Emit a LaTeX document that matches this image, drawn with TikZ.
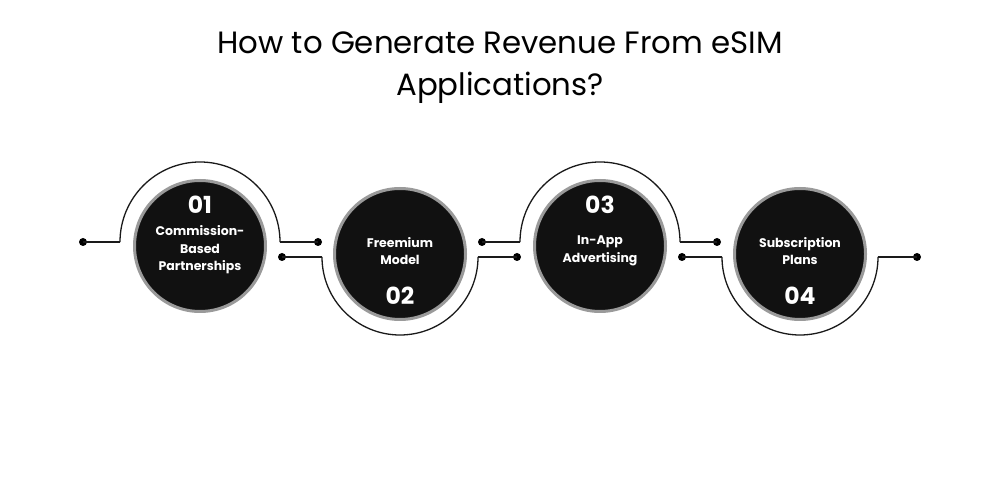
\documentclass[tikz,border=0pt]{standalone}
\usepackage{fontspec}
\setmainfont{Poppins}
\definecolor{disc}{HTML}{111111}
\definecolor{rim}{HTML}{9A9A9A}
\definecolor{wire}{HTML}{1A1A1A}
\begin{document}
\begin{tikzpicture}[x=1pt,y=1pt,
  disk/.style={circle,fill=disc,draw=rim,line width=3pt,minimum size=131pt,inner sep=0pt},
  wirestyle/.style={draw=wire,line width=1.3pt},
  dotstyle/.style={circle,fill=black,inner sep=0pt,minimum size=8pt},
  label/.style={text=white,font=\bfseries\fontsize{12.5}{17.5}\selectfont,align=center},
  num/.style={text=white,font=\bfseries\fontsize{23.5}{25}\selectfont},
  title/.style={font=\fontsize{30.8}{42}\selectfont,align=center}]
\useasboundingbox[fill=white] (0,0) rectangle (1000,500);

\node[title] (ttl) at (500,432) {How to Generate Revenue From eSIM\\Applications?};

% outer arcs
\coordinate (a1l) at (120,258); \coordinate (a1r) at (280,258);
\coordinate (a2l) at (322,243); \coordinate (a2r) at (478,243);
\coordinate (a3l) at (520,258); \coordinate (a3r) at (680,258);
\coordinate (a4l) at (722,243); \coordinate (a4r) at (878,243);
\draw[wirestyle] (a1l) arc (180:0:80pt);
\draw[wirestyle] (a2l) arc (180:360:78pt);
\draw[wirestyle] (a3l) arc (180:0:80pt);
\draw[wirestyle] (a4l) arc (180:360:78pt);

% dots
\node[dotstyle] (d1) at (83,258) {};
\node[dotstyle] (d2) at (318,258) {};
\node[dotstyle] (d3) at (282,243) {};
\node[dotstyle] (d4) at (517,243) {};
\node[dotstyle] (d5) at (482,258) {};
\node[dotstyle] (d6) at (717,258) {};
\node[dotstyle] (d7) at (682,243) {};
\node[dotstyle] (d8) at (917,243) {};

\draw[wirestyle] (d1.center) -- (a1l);
\draw[wirestyle] (a1r) -- (d2.center);
\draw[wirestyle] (d3.center) -- (a2l);
\draw[wirestyle] (a2r) -- (d4.center);
\draw[wirestyle] (d5.center) -- (a3l);
\draw[wirestyle] (a3r) -- (d6.center);
\draw[wirestyle] (d7.center) -- (a4l);
\draw[wirestyle] (a4r) -- (d8.center);

% discs
\node[disk] (c1) at (200,254) {};
\node[disk] (c2) at (400,246) {};
\node[disk] (c3) at (600,254) {};
\node[disk] (c4) at (800,246) {};

\node[num] (n1) at (200,295) {01};
\node[label] (t1) at (200,250) {Commission-\\Based\\Partnerships};
\node[label] (t2) at (400,249) {Freemium\\Model};
\node[num] (n2) at (400,204) {02};
\node[num] (n3) at (600,295) {03};
\node[label] (t3) at (600,249) {In-App\\Advertising};
\node[label] (t4) at (800,249) {Subscription\\Plans};
\node[num] (n4) at (800,204) {04};
\end{tikzpicture}
\end{document}
